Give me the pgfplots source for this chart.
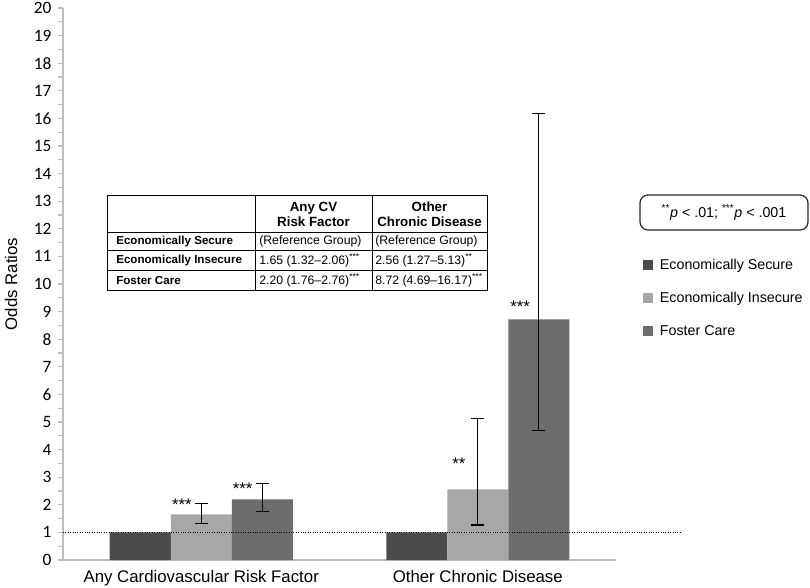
\documentclass[border=0pt]{standalone}
\usepackage{pgfplots}
\pgfplotsset{compat=1.18}
\usepackage{fontspec}
\setmainfont{Liberation Sans}
\newfontfamily\carlito{Carlito}

\definecolor{secure}{HTML}{4B4B4B}
\definecolor{insecure}{HTML}{A7A7A7}
\definecolor{foster}{HTML}{6D6D6D}
\definecolor{axisgray}{HTML}{BDBDBD}

\newcommand{\tfont}{\fontsize{8.7}{10}\selectfont}
\newcommand{\vfont}{\fontsize{9.2}{10}\selectfont}
\newcommand{\hfont}{\fontsize{10}{11.2}\selectfont}
\newcommand{\lfont}{\fontsize{10.7}{12}\selectfont}
\newcommand{\cfont}{\fontsize{12.6}{14}\selectfont}

\begin{document}
\begin{tikzpicture}
\path[use as bounding box] (0,0) rectangle (607.5pt,-440.25pt);
\begin{axis}[
    at={(47.25pt,-420pt)}, anchor=south west,
    scale only axis, width=414.75pt, height=414pt,
    ybar=0pt, bar width=45.75pt,
    xmin=-0.5, xmax=1.5, ymin=0, ymax=20,
    xtick={0,1},
    xticklabels={Any Cardiovascular Risk Factor, Other Chronic Disease},
    ytick={0,1,...,20}, minor y tick num=1,
    axis x line*=bottom, axis y line*=left,
    axis line style={axisgray, line width=1pt},
    x tick style={draw=none},
    y tick style={axisgray, line width=0.8pt},
    tick align=outside, major tick length=4pt, minor tick length=4pt,
    /pgf/number format/assume math mode=true,
    yticklabel style={font=\carlito\fontsize{13}{14}\selectfont, xshift=-1.2pt},
    xticklabel style={font=\cfont},
    ylabel={Odds Ratios},
    ylabel style={font=\cfont, at={(axis description cs:-0.094,0.5)}, anchor=center},
    clip=false,
    legend cell align=left,
    legend image code/.code={\fill[#1,draw=none] (0pt,-3.75pt) rectangle (7.5pt,3.75pt);},
    legend style={draw=none, fill=none, font=\lfont, inner sep=0pt,
        at={(axis description cs:1.0488,0.4746)}, anchor=west,
        row sep=14.75pt, column sep=5pt,
        nodes={inner xsep=0pt, inner ysep=0pt, text height=8pt, text depth=2pt}},
    error bars/error bar style={black, line width=0.9pt},
    error bars/error mark options={black, line width=0.9pt, mark size=4.9pt, rotate=90},
]
\addplot[fill=secure, draw=none] coordinates {(0,1) (1,1)};
\addlegendentry{Economically Secure}
\addplot[fill=insecure, draw=none,
    error bars/.cd, y dir=both, y explicit] coordinates {
    (0,1.65) += (0,0.41) -= (0,0.33)
    (1,2.56) += (0,2.57) -= (0,1.29)
};
\addlegendentry{Economically Insecure}
\addplot[fill=foster, draw=none,
    error bars/.cd, y dir=both, y explicit] coordinates {
    (0,2.20) += (0,0.56) -= (0,0.44)
    (1,8.72) += (0,7.45) -= (0,4.03)
};
\addlegendentry{Foster Care}
% reference line at OR = 1
\addplot[sharp plot, black, densely dotted, line width=0.8pt, forget plot]
    coordinates {(-0.5,1) (1.731,1)};
% significance stars
\node[font=\cfont] at (axis cs:-0.070,1.99) {***};
\node[font=\cfont] at (axis cs:0.150,2.57) {***};
\node[font=\cfont] at (axis cs:0.932,3.50) {**};
\node[font=\cfont] at (axis cs:1.153,9.17) {***};
\end{axis}

\begin{scope}[x=0.75pt, y=-0.75pt]
% p-value note
\draw[black!85, line width=0.9pt, rounded corners=6pt] (640,195) rectangle (808,230);
\node[font=\lfont] at (724,212.5) {\textsuperscript{**}\textit{p} < .01; \textsuperscript{***}\textit{p} < .001};
% inset table
\draw[black, line width=0.75pt] (107,195) rectangle (487,290);
\foreach \yy in {232,250,270} \draw[black, line width=0.75pt] (107,\yy) -- (487,\yy);
\foreach \xx in {255,372} \draw[black, line width=0.75pt] (\xx,195) -- (\xx,290);
\node[font=\hfont\bfseries, align=center] at (313.5,214) {Any CV\\Risk Factor};
\node[font=\hfont\bfseries, align=center] at (429.5,214) {Other\\Chronic Disease};
\node[font=\tfont\bfseries, anchor=west, inner sep=0pt] at (116,241) {Economically Secure};
\node[font=\tfont\bfseries, anchor=west, inner sep=0pt] at (116,260) {Economically Insecure};
\node[font=\tfont\bfseries, anchor=west, inner sep=0pt] at (116,280) {Foster Care};
\node[font=\vfont, anchor=west, inner sep=0pt] at (259,241) {(Reference Group)};
\node[font=\vfont, anchor=west, inner sep=0pt] at (375,241) {(Reference Group)};
\node[font=\vfont, anchor=west, inner sep=0pt] at (259,260) {1.65 (1.32--2.06)\textsuperscript{***}};
\node[font=\vfont, anchor=west, inner sep=0pt] at (375,260) {2.56 (1.27--5.13)\textsuperscript{**}};
\node[font=\vfont, anchor=west, inner sep=0pt] at (259,280) {2.20 (1.76--2.76)\textsuperscript{***}};
\node[font=\vfont, anchor=west, inner sep=0pt] at (375,280) {8.72 (4.69--16.17)\textsuperscript{***}};
\end{scope}
\end{tikzpicture}
\end{document}
